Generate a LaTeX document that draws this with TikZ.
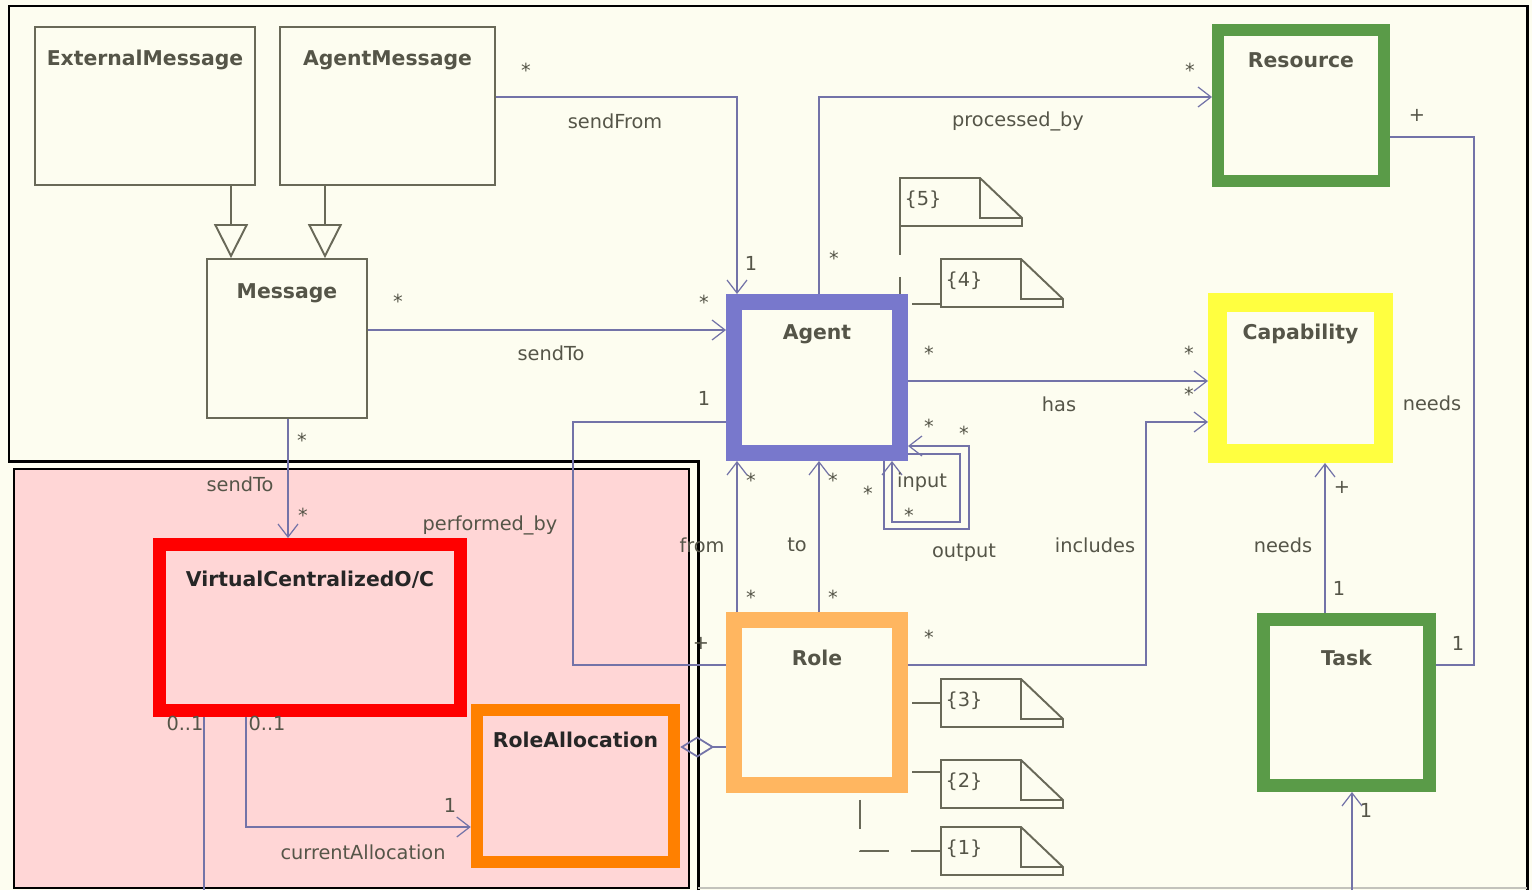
\documentclass[tikz,border=0pt]{standalone}
\usepackage{fontspec}
\setmainfont{DejaVu Sans}
\usetikzlibrary{arrows.meta}
\definecolor{mycream}{RGB}{253,253,240}
\definecolor{mypink}{RGB}{255,214,214}
\definecolor{myline}{RGB}{115,115,168}
\definecolor{mybox}{RGB}{105,105,88}
\definecolor{mytext}{RGB}{85,85,72}
\definecolor{agentblue}{RGB}{120,120,204}
\definecolor{taskgreen}{RGB}{90,155,72}
\definecolor{capyellow}{RGB}{255,255,64}
\definecolor{raorange}{RGB}{255,128,0}
\definecolor{roleorange}{RGB}{255,182,96}

% note with folded corner: name, top left, text, offset of its link
\newcommand{\umlnote}[4]{%
  \coordinate (#1) at (#2);
  \coordinate (#1a) at ([shift={(0,#4)}]#1);
  \draw[notebox] (#1) -- ++(80,0) -- ++(42,40) -- ++(0,8) -- ++(-122,0) -- cycle
    ([shift={(80,0)}]#1) -- ++(0,40) -- ++(42,0);
  \node[lbl] (#1t) at ([shift={(23,22)}]#1) {#3};}

\begin{document}
\begin{tikzpicture}[x=0.02cm, y=-0.02cm,
  font=\fontsize{11}{13}\selectfont,
  cls/.style={draw=mybox, line width=1.1pt, inner sep=0pt, outer sep=auto},
  ttl/.style={font=\fontsize{11.6}{13}\selectfont\bfseries, text=mytext, inner sep=0pt},
  lbl/.style={text=mytext, inner sep=0pt},
  assoc/.style={draw=myline, line width=1pt},
  arr/.style={-{Straight Barb[length=0.26cm,width=0.4cm,line width=0.7pt]}},
  gen/.style={draw=mybox, line width=1.1pt, -{Triangle[open,length=0.68cm,width=0.68cm,line width=1.1pt]}},
  notebox/.style={draw=mybox, line width=1.1pt},
  notelink/.style={draw=mybox, line width=1.1pt, dash pattern=on 0.58cm off 0.44cm}]
  \useasboundingbox (0,0) rectangle (1532,890);
  \fill[mycream] (0,0) rectangle (1532,890);
  % the two regions
  \draw[line width=1.7pt] (698,890) -- (698,461) -- (9,461) -- (9,6) -- (1527,6) -- (1527,890);
  \draw[mybox!40, line width=0.8pt] (698,888) -- (1527,888);
  \draw[line width=1.5pt, fill=mypink] (14,469) rectangle (689,888);

  % classes
  \node[cls, minimum width=4.4cm, minimum height=3.16cm] (extmsg) at (145,106) {};
  \node[cls, minimum width=4.3cm, minimum height=3.16cm] (amsg) at (387.5,106) {};
  \node[cls, minimum width=3.2cm, minimum height=3.18cm] (msg) at (287,338.5) {};
  \node[cls, draw=agentblue, line width=0.32cm, minimum width=3.32cm, minimum height=3.02cm] (agent) at (817,377.5) {};
  \node[cls, draw=taskgreen, line width=0.24cm, minimum width=3.32cm, minimum height=3.02cm] (res) at (1301,105.5) {};
  \node[cls, draw=capyellow, line width=0.38cm, minimum width=3.32cm, minimum height=3.02cm] (cap) at (1300.5,378) {};
  \node[cls, draw=taskgreen, line width=0.26cm, minimum width=3.32cm, minimum height=3.32cm] (task) at (1346.5,702.5) {};
  \node[cls, draw=roleorange, line width=0.32cm, minimum width=3.32cm, minimum height=3.3cm] (role) at (817,702.5) {};
  \node[cls, draw=red, line width=0.26cm, minimum width=6.02cm, minimum height=3.32cm] (vc) at (310,627.5) {};
  \node[cls, draw=raorange, line width=0.25cm, minimum width=3.94cm, minimum height=3.04cm] (ra) at (575.5,786) {};

  \node[ttl, yshift=-0.68cm] (extmsgT) at (extmsg.north) {ExternalMessage};
  \node[ttl, yshift=-0.68cm] (amsgT) at (amsg.north) {AgentMessage};
  \node[ttl, yshift=-0.7cm] (msgT) at (msg.north) {Message};
  \node[ttl, yshift=-0.8cm] (agentT) at (agent.north) {Agent};
  \node[ttl, yshift=-0.72cm] (resT) at (res.north) {Resource};
  \node[ttl, yshift=-0.82cm] (capT) at (cap.north) {Capability};
  \node[ttl, yshift=-0.9cm] (taskT) at (task.north) {Task};
  \node[ttl, yshift=-0.92cm] (roleT) at (role.north) {Role};
  \node[ttl, yshift=-0.84cm, text=black!85] (vcT) at (vc.north) {VirtualCentralizedO/C};
  \node[ttl, yshift=-0.72cm, text=black!85] (raT) at (ra.north) {RoleAllocation};

  % generalisations
  \draw[gen] (extmsg.south -| 231,0) -- (msg.north -| 231,0);
  \draw[gen] (amsg.south -| 325,0) -- (msg.north -| 325,0);

  % associations
  \draw[assoc, arr] (amsg.east |- 0,97) -| (agent.north -| 737,0);
  \draw[assoc, arr] (agent.north -| 819,0) |- (res.west |- 0,97);
  \draw[assoc, arr] (msg.east |- 0,330) -- (agent.west |- 0,330);
  \draw[assoc, arr] (agent.east |- 0,381) -- (cap.west |- 0,381);
  \draw[assoc, arr] (role.east |- 0,665) -| (1146,422) -- (cap.west |- 0,422);
  \draw[assoc, arr] (task.north -| 1325,0) -- (cap.south -| 1325,0);
  \draw[assoc] (task.east |- 0,665) -| (1474,137) -- (res.east |- 0,137);
  \draw[assoc, arr] (role.north -| 737,0) -- (agent.south -| 737,0);
  \draw[assoc, arr] (role.north -| 819,0) -- (agent.south -| 819,0);
  \draw[assoc] (agent.west |- 0,422) -| (573,665) -- (role.west |- 0,665);
  \draw[assoc, arr] (agent.south -| 884,0) |- (969,529) -- (969,446) -- (agent.east |- 0,446);
  \draw[assoc, arr] (agent.east |- 0,454) -- (960,454) -- (960,522) -| (agent.south -| 892,0);
  \draw[assoc, arr] (msg.south -| 288,0) -- (vc.north -| 288,0);
  \draw[assoc, arr] (vc.south -| 246,0) |- (ra.west |- 0,827);
  \coordinate (vcEnd) at (204,890);
  \draw[assoc] (vc.south -| vcEnd) -- (vcEnd);
  \coordinate (taskIn) at (1352,890);
  \draw[assoc, arr] (taskIn) -- (task.south -| taskIn);
  \draw[assoc, {Diamond[open,length=0.68cm,width=0.42cm]}-] (ra.east |- 0,747) -- (role.west |- 0,747);

  % notes
  \umlnote{n5}{900,178}{\{5\}}{48}
  \umlnote{n4}{941,259}{\{4\}}{45}
  \umlnote{n3}{941,679}{\{3\}}{24}
  \umlnote{n2}{941,760}{\{2\}}{12}
  \umlnote{n1}{941,827}{\{1\}}{24}
  \draw[notelink] (n5a) -- (agent.north -| n5a);
  \draw[notelink] (n4a) -- (agent.east |- n4a);
  \draw[notelink] (n3a) -- (role.east |- n3a);
  \draw[notelink] (n2a) -- (role.east |- n2a);
  \draw[notelink, dash phase=0.88cm] (role.south -| 860,0) |- (n1a);

  % role names and multiplicities
  \node[lbl] (sfA) at (526,70) {*};
  \node[lbl] (sfL) at (615,121) {sendFrom};
  \node[lbl] (sfB) at (751,263) {1};
  \node[lbl] (pbA) at (834,258) {*};
  \node[lbl] (pbL) at (1018,121) {processed\_by};
  \node[lbl] (pbB) at (1190,70) {*};
  \node[lbl] (ndA) at (1417,115) {+};
  \node[lbl] (ndL) at (1432,403) {needs};
  \node[lbl] (ndB) at (1458,643) {1};
  \node[lbl] (stA) at (398,301) {*};
  \node[lbl] (stL) at (551,353) {sendTo};
  \node[lbl] (stB) at (704,302) {*};
  \node[lbl] (hsA) at (929,353) {*};
  \node[lbl] (hsL) at (1059,404) {has};
  \node[lbl] (hsB) at (1189,353) {*};
  \node[lbl] (inA) at (1189,394) {*};
  \node[lbl] (inL) at (1095,545) {includes};
  \node[lbl] (inB) at (929,637) {*};
  \node[lbl] (tnA) at (1342,487) {+};
  \node[lbl] (tnL) at (1283,545) {needs};
  \node[lbl] (tnB) at (1339,588) {1};
  \node[lbl] (frA) at (751,480) {*};
  \node[lbl] (frL) at (702,545) {from};
  \node[lbl] (frB) at (751,597) {*};
  \node[lbl] (toA) at (833,480) {*};
  \node[lbl] (toL) at (797,545) {to};
  \node[lbl] (toB) at (833,597) {*};
  \node[lbl] (pfA) at (704,398) {1};
  \node[lbl] (pfL) at (490,525) {performed\_by};
  \node[lbl] (pfB) at (701,643) {+};
  \node[lbl] (ioA) at (929,426) {*};
  \node[lbl] (ioB) at (964,433) {*};
  \node[lbl] (ioL) at (922,482) {input};
  \node[lbl] (ioC) at (868,493) {*};
  \node[lbl] (ioD) at (909,515) {*};
  \node[lbl] (ioM) at (964,553) {output};
  \node[lbl] (vsA) at (302,440) {*};
  \node[lbl] (vsL) at (240,484) {sendTo};
  \node[lbl] (vsB) at (303,515) {*};
  \node[lbl] (vcA) at (185,723) {0..1};
  \node[lbl] (caA) at (267,723) {0..1};
  \node[lbl] (caB) at (450,805) {1};
  \node[lbl] (caL) at (363,852) {currentAllocation};
  \node[lbl] (tiB) at (1366,810) {1};
\end{tikzpicture}
\end{document}
